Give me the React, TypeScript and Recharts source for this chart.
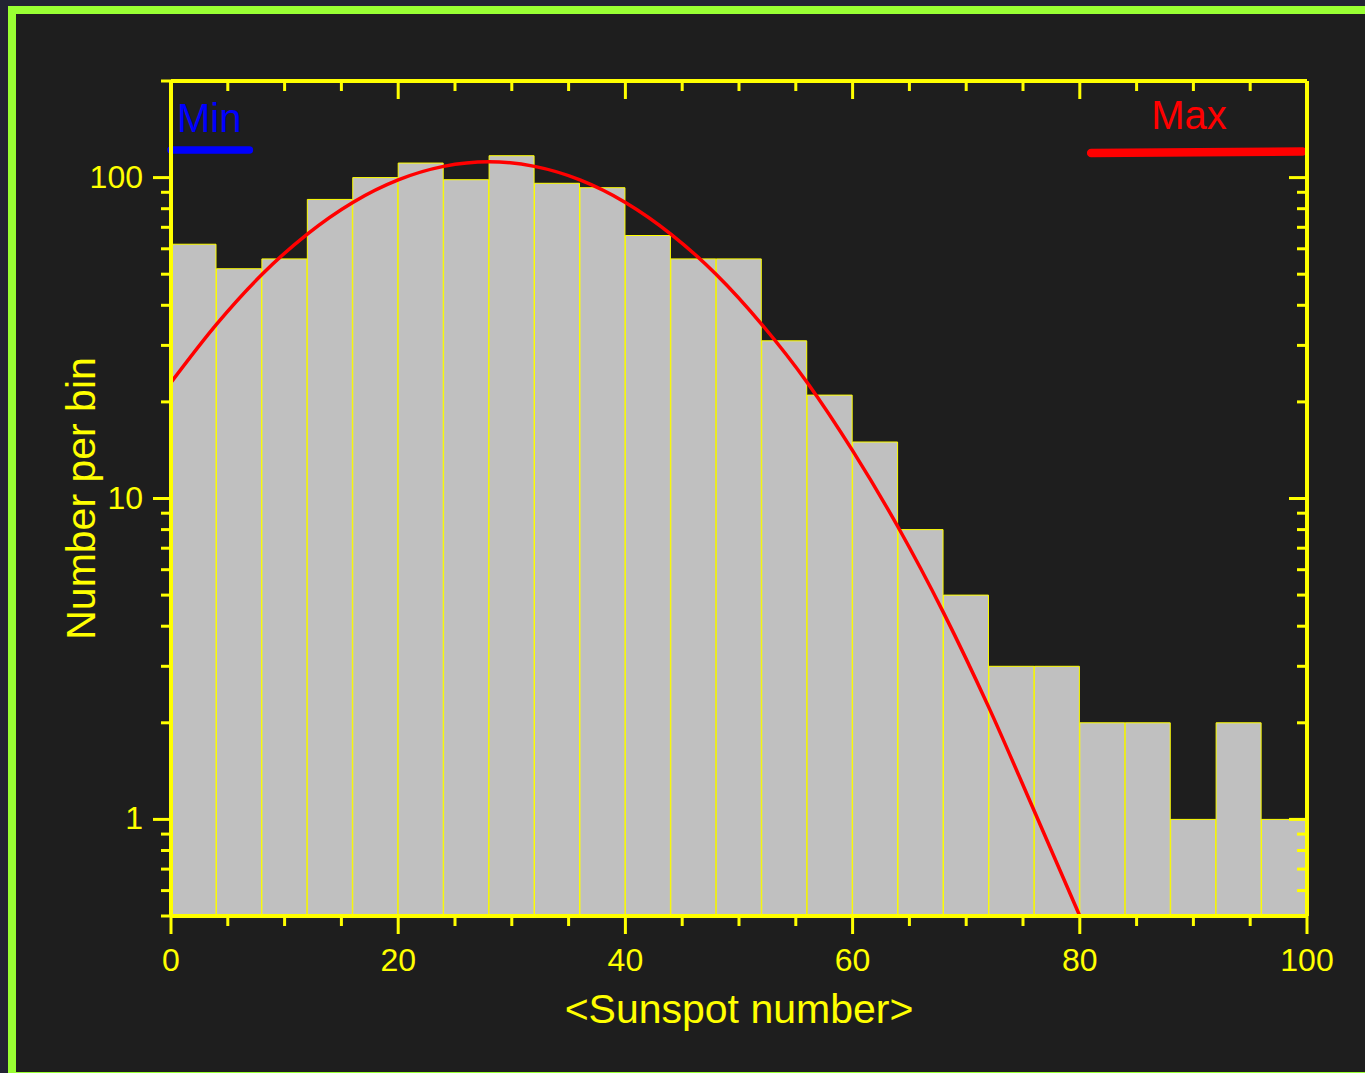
import {
  ComposedChart, Bar, Line, XAxis, YAxis, ReferenceLine,
} from 'recharts';

// histogram: bins of width 4 on <Sunspot number>
const binStarts = [0, 4, 8, 12, 16, 20, 24, 28, 32, 36, 40, 44, 48, 52, 56, 60, 64, 68, 72, 76, 80, 84, 88, 92, 96];
const binCounts = [62, 52, 55.8, 85.5, 100, 111, 98.5, 117, 96, 93, 66, 55.8, 55.8, 31, 21, 15, 8, 5, 3, 3, 2, 2, 1, 2, 1];

// fitted curve
const fitX = [0, 4, 8, 12, 16, 20, 24, 28, 32, 36, 40, 44, 48, 52, 56, 60, 64, 68, 72, 76, 80];
const fitY = [23, 34.9, 49.9, 66.7, 83.7, 98.4, 108.4, 112, 108.4, 98.4, 83.7, 66.7, 49.9, 34.9, 23, 14.1, 8.15, 4.41, 2.23, 1.06, 0.5];

const xTicks = [0, 5, 10, 15, 20, 25, 30, 35, 40, 45, 50, 55, 60, 65, 70, 75, 80, 85, 90, 95, 100];
const yTicks = [0.5, 0.6, 0.7, 0.8, 0.9, 1, 2, 3, 4, 5, 6, 7, 8, 9, 10, 20, 30, 40, 50, 60, 70, 80, 90, 100, 200];
const yMajor = [1, 10, 100];

const minSegment = [{ x: 0, y: 122 }, { x: 6.9, y: 122 }];
const maxSegment = [{ x: 81, y: 119.4 }, { x: 99.6, y: 120.5 }];

const histData = binStarts.map((b, i) => ({ bin: b, count: binCounts[i] }));
const fitData = fitX.map((x, i) => ({ x, y: fitY[i] }));

const YEL = '#ffff00';
const FONT = '"Liberation Sans", Arial, sans-serif';

const BottomTick = (p: any) => {
  const v = p.payload.value;
  const major = v % 20 === 0;
  return (
    <g>
      <line x1={p.x} x2={p.x} y1={p.y} y2={p.y + (major ? 18 : 10)} stroke={YEL} strokeWidth={3} />
      {major && (
        <text x={p.x} y={p.y + 55} textAnchor="middle" fill={YEL} fontSize={32} fontFamily={FONT}>{v}</text>
      )}
    </g>
  );
};

const TopTick = (p: any) => {
  const major = p.payload.value % 20 === 0;
  return <line x1={p.x} x2={p.x} y1={p.y} y2={p.y + (major ? 18 : 10)} stroke={YEL} strokeWidth={3} />;
};

const LeftTick = (p: any) => {
  const v = p.payload.value;
  const major = yMajor.includes(v);
  return (
    <g>
      <line x1={p.x - (major ? 18 : 10)} x2={p.x} y1={p.y} y2={p.y} stroke={YEL} strokeWidth={3} />
      {major && (
        <text x={p.x - 28} y={p.y + 10} textAnchor="end" fill={YEL} fontSize={32} fontFamily={FONT}>{v}</text>
      )}
    </g>
  );
};

const RightTick = (p: any) => {
  const major = yMajor.includes(p.payload.value);
  return <line x1={p.x - (major ? 18 : 10)} x2={p.x} y1={p.y} y2={p.y} stroke={YEL} strokeWidth={3} />;
};

const segLabel = (text: string, color: string, dx: number, dy: number) => (props: any) => {
  const vb = props.viewBox || {};
  const x = vb.x ?? vb.x1 ?? 0;
  const y = vb.y ?? vb.y1 ?? 0;
  return (
    <text x={x + dx} y={y + dy} fill={color} fontSize={40} fontFamily={FONT}>{text}</text>
  );
};

const xTitle = (props: any) => {
  const vb = props.viewBox || { x: 171, y: 916, width: 1136 };
  return (
    <text x={vb.x + vb.width / 2} y={vb.y + 107} textAnchor="middle" fill={YEL} fontSize={41} fontFamily={FONT}>
      {'<Sunspot number>'}
    </text>
  );
};

const yTitle = (props: any) => {
  const vb = props.viewBox || { x: 0, y: 81, height: 835 };
  const cx = vb.x + 95;
  const cy = vb.y + vb.height / 2;
  return (
    <text x={cx} y={cy} transform={`rotate(-90, ${cx}, ${cy})`} textAnchor="middle" fill={YEL} fontSize={41} fontFamily={FONT}>
      Number per bin
    </text>
  );
};

export default function App() {
  return (
    <div style={{ position: 'fixed', left: 0, top: 0, width: 1365, height: 1073, overflow: 'hidden', background: '#232333' }}>
      <div style={{
        position: 'absolute', left: 8, top: 6, width: 1420, height: 1074,
        boxSizing: 'border-box', border: '8px solid #99ff33', background: '#1e1e1e',
      }} />
      <div style={{ position: 'absolute', left: 0, top: 0 }}>
        <ComposedChart
          width={1365}
          height={1073}
          data={histData}
          margin={{ top: 0, right: 0, bottom: 0, left: 0 }}
          barCategoryGap={0}
          barGap={0}
        >
          <XAxis xAxisId="cat" dataKey="bin" type="category" hide height={0} />
          <Bar xAxisId="cat" yAxisId="left" dataKey="count" fill="#c0c0c0" stroke={YEL} strokeWidth={1} isAnimationActive={false} />
          <Line
            xAxisId="top" yAxisId="right" data={fitData} dataKey="y" type="monotone"
            stroke="none" dot={false} activeDot={false} isAnimationActive={false}
          />
          <XAxis
            xAxisId="num" dataKey="x" type="number" orientation="bottom" domain={[0, 100]} allowDataOverflow
            ticks={xTicks} interval={0} height={157} tickSize={0} tickMargin={0} tickLine={false}
            axisLine={{ stroke: YEL, strokeWidth: 4 }} tick={BottomTick} label={xTitle}
          />
          <XAxis
            xAxisId="top" dataKey="x" type="number" orientation="top" domain={[0, 100]} allowDataOverflow
            ticks={xTicks} interval={0} height={81} tickSize={0} tickMargin={0} tickLine={false}
            axisLine={{ stroke: YEL, strokeWidth: 4 }} tick={TopTick}
          />
          <YAxis
            yAxisId="left" orientation="left" scale="log" domain={[0.5, 200]} allowDataOverflow
            ticks={yTicks} interval={0} width={171} tickSize={0} tickMargin={0} tickLine={false}
            axisLine={{ stroke: YEL, strokeWidth: 4 }} tick={LeftTick} label={yTitle}
          />
          <YAxis
            yAxisId="right" orientation="right" scale="log" domain={[0.5, 200]} allowDataOverflow
            ticks={yTicks} interval={0} width={58} tickSize={0} tickMargin={0} tickLine={false}
            axisLine={{ stroke: YEL, strokeWidth: 4 }} tick={RightTick}
          />
          <Line
            xAxisId="num" yAxisId="left" data={fitData} dataKey="y" type="monotone"
            stroke="#ff0000" strokeWidth={3.5} dot={false} activeDot={false} isAnimationActive={false}
          />
          <ReferenceLine
            xAxisId="num" yAxisId="left" segment={minSegment} stroke="#0000ff" strokeWidth={7.5}
            strokeLinecap="round" ifOverflow="visible" label={segLabel('Min', '#0000ff', 6, -18)}
          />
          <ReferenceLine
            xAxisId="num" yAxisId="left" segment={maxSegment} stroke="#ff0000" strokeWidth={8.5}
            strokeLinecap="round" ifOverflow="visible" label={segLabel('Max', '#ff0000', 60, -23)}
          />
        </ComposedChart>
      </div>
    </div>
  );
}
